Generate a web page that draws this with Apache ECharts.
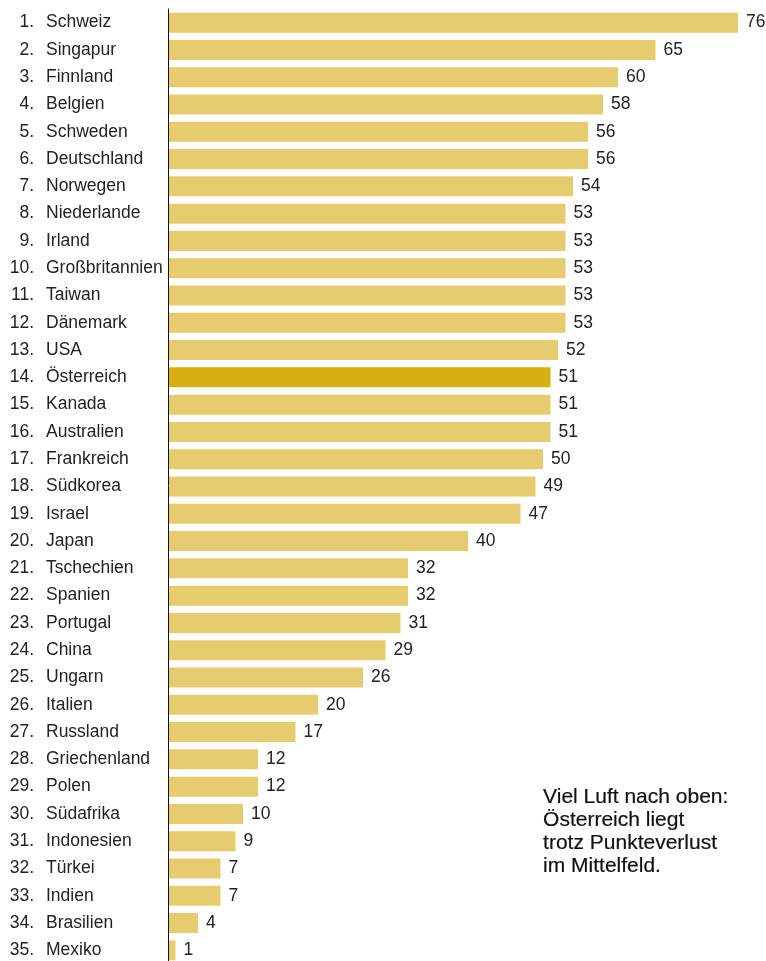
<!DOCTYPE html>
<html>
<head>
<meta charset="utf-8">
<script src="https://cdn.jsdelivr.net/npm/echarts@6/dist/echarts.min.js"></script>
<style>
  html, body { margin: 0; padding: 0; background: #fff; }
  #chart { width: 766px; height: 961px; }
</style>
</head>
<body>
<div id="chart"></div>
<script>
var countries = [
    'Schweiz', 'Singapur', 'Finnland', 'Belgien', 'Schweden', 'Deutschland', 'Norwegen',
    'Niederlande', 'Irland', 'Großbritannien', 'Taiwan', 'Dänemark', 'USA', 'Österreich',
    'Kanada', 'Australien', 'Frankreich', 'Südkorea', 'Israel', 'Japan', 'Tschechien',
    'Spanien', 'Portugal', 'China', 'Ungarn', 'Italien', 'Russland', 'Griechenland',
    'Polen', 'Südafrika', 'Indonesien', 'Türkei', 'Indien', 'Brasilien', 'Mexiko'
];
var ranks = [
    '1.', '2.', '3.', '4.', '5.', '6.', '7.', '8.', '9.', '10.', '11.', '12.', '13.', '14.',
    '15.', '16.', '17.', '18.', '19.', '20.', '21.', '22.', '23.', '24.', '25.', '26.', '27.',
    '28.', '29.', '30.', '31.', '32.', '33.', '34.', '35.'
];
var scores = [
    76, 65, 60, 58, 56, 56, 54, 53, 53, 53, 53, 53, 52, 51, 51, 51, 50, 49, 47, 40,
    32, 32, 31, 29, 26, 20, 17, 12, 12, 10, 9, 7, 7, 4, 1
];
var highlight = 'Österreich';
var note = ['Viel Luft nach oben:', 'Österreich liegt', 'trotz Punkteverlust', 'im Mittelfeld.'];

var FONT = '"Liberation Sans", Arial, sans-serif';
var TEXT = '#222';
var BAR = '#E6CC6E';
var BAR_HI = '#D9AE12';

var chart = echarts.init(document.getElementById('chart'));

var labelStyle = {
    fontFamily: FONT,
    fontSize: 17.5,
    color: TEXT,
    padding: [6, 0, 0, 0]
};

chart.setOption({
    animation: false,
    grid: { left: 168, top: 9, width: 600, height: 955, outerBoundsMode: 'none', containLabel: false },
    xAxis: {
        type: 'value',
        min: 0,
        max: 80,
        show: false
    },
    yAxis: [
        {
            // names, with the axis line
            type: 'category',
            inverse: true,
            data: countries,
            z: 5,
            axisLine: { show: true, lineStyle: { color: '#111', width: 1 } },
            axisTick: { show: false },
            axisLabel: Object.assign({ align: 'left', margin: 122, overflow: 'none' }, labelStyle)
        },
        {
            // rank numbers, right aligned
            type: 'category',
            inverse: true,
            position: 'left',
            data: ranks,
            axisLine: { show: false },
            axisTick: { show: false },
            axisLabel: Object.assign({ align: 'right', margin: 134 }, labelStyle)
        }
    ],
    series: [{
        type: 'bar',
        barWidth: 20,
        data: countries.map(function (c, i) {
            return {
                value: scores[i],
                itemStyle: { color: c === highlight ? BAR_HI : BAR }
            };
        }),
        label: Object.assign({ show: true, position: 'right', distance: 8 }, labelStyle)
    }],
    graphic: [{
        type: 'text',
        left: 543,
        top: 786,
        style: {
            text: note.join('\n'),
            font: '21px "Liberation Sans", Arial, sans-serif',
            lineHeight: 23,
            fill: '#111',
            stroke: '#111',
            lineWidth: 0.2
        }
    }]
});
</script>
</body>
</html>
